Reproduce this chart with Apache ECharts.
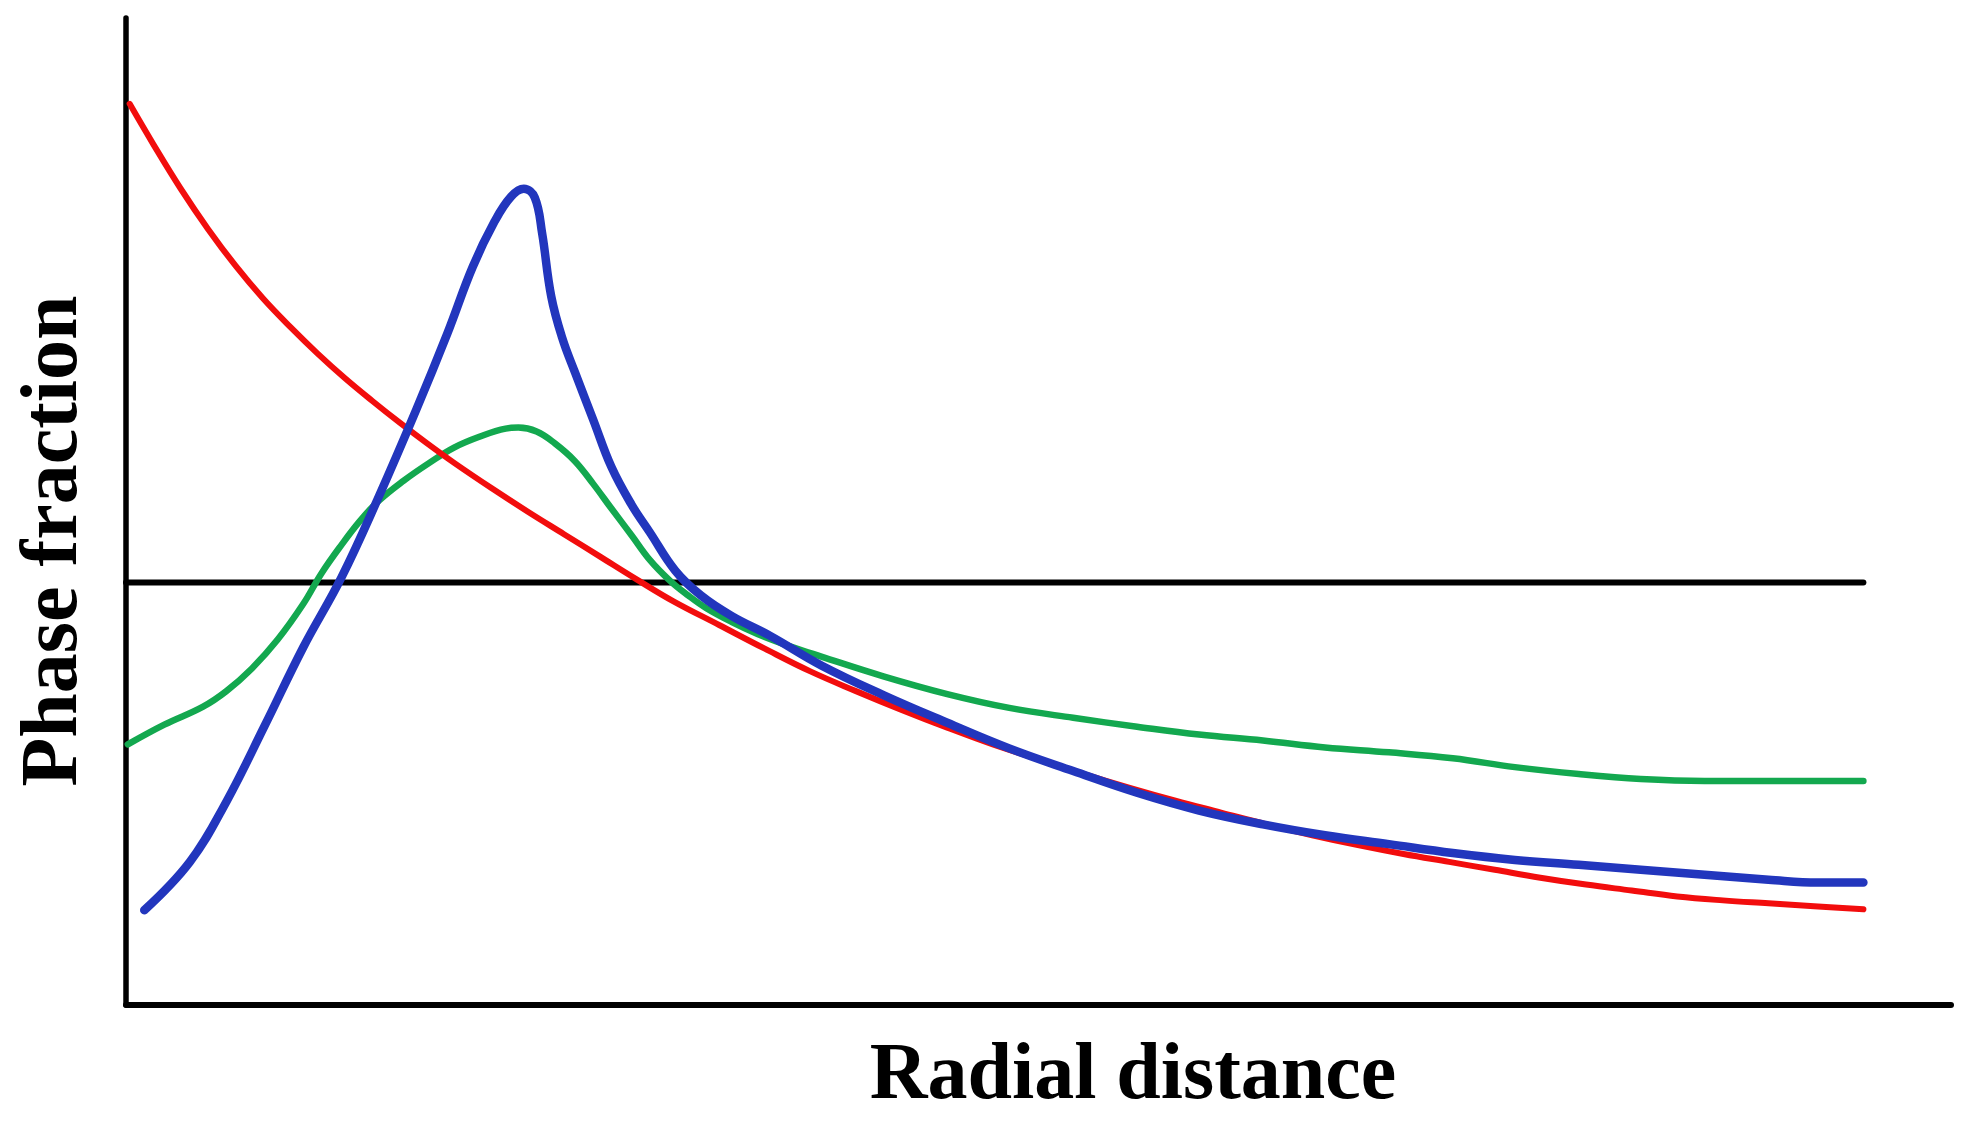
<!DOCTYPE html>
<html>
<head>
<meta charset="utf-8">
<script src="https://cdn.jsdelivr.net/npm/echarts@6/dist/echarts.min.js"></script>
<style>
html,body{margin:0;padding:0;background:#fff;}
#chart{width:1980px;height:1143px;}
</style>
</head>
<body>
<div id="chart"></div>
<script>
// Axis titles
const xTitle = 'Radial distance';
const yTitle = 'Phase fraction';

// Reference level (black horizontal line)
const refLine = [[0, 42.8], [95.2, 42.8]];

// Red curve: monotonically decreasing
const redSeries = [
  [0.2, 91.3], [1.5, 87.2], [3.0, 82.7], [4.5, 78.6], [6.0, 74.9], [7.5, 71.6],
  [9.0, 68.7], [10.5, 66.0], [12.0, 63.5], [13.5, 61.2], [15.0, 59.0], [16.5, 56.9],
  [18.0, 54.9], [20.0, 52.4], [22.0, 50.0], [24.0, 47.7], [26.0, 45.4], [28.0, 43.1],
  [30.0, 40.9], [32.5, 38.5], [35.0, 36.1], [37.5, 33.8], [40.0, 31.8], [42.5, 29.9],
  [45.0, 28.1], [47.5, 26.4], [50.0, 24.9], [52.5, 23.4], [55.0, 22.0], [57.5, 20.7],
  [60.0, 19.5], [62.5, 18.3], [65.0, 17.2], [67.5, 16.2], [70.0, 15.3], [72.5, 14.5],
  [75.0, 13.7], [77.5, 12.9], [80.0, 12.2], [82.5, 11.6], [85.0, 11.0], [87.5, 10.6],
  [90.0, 10.3], [92.5, 10.0], [95.2, 9.7]
];

// Blue curve: sharp peak
const blueSeries = [
  [1.0, 9.6], [3.5, 14.5], [5.5, 20.6], [7.6, 28.3], [9.7, 36.2], [11.8, 43.3],
  [13.8, 51.3], [15.9, 60.3], [17.6, 68.0], [19.0, 74.8], [20.2, 79.4], [21.1, 81.9],
  [21.8, 82.7], [22.4, 81.8], [22.8, 78.2], [23.3, 71.8], [23.9, 67.6], [24.6, 64.1],
  [25.6, 59.3], [26.6, 54.5], [27.7, 50.7], [28.7, 47.9], [30.1, 44.0], [31.5, 41.5],
  [33.2, 39.4], [35.3, 37.4], [38.1, 34.4], [41.5, 31.4], [45.0, 28.6], [48.4, 26.0],
  [51.9, 23.7], [55.4, 21.5], [58.8, 19.7], [62.3, 18.3], [65.7, 17.2], [69.2, 16.3],
  [72.7, 15.4], [76.1, 14.7], [79.6, 14.2], [83.0, 13.7], [86.5, 13.2], [90.0, 12.7],
  [92.7, 12.4], [95.2, 12.4]
];

// Green curve: broad peak
const greenSeries = [
  [0.1, 26.4], [2.1, 28.4], [4.2, 30.2], [5.5, 31.8], [6.9, 34.1], [8.3, 37.0],
  [9.7, 40.6], [10.7, 43.7], [11.8, 46.6], [12.8, 49.0], [13.8, 51.0], [15.2, 53.1],
  [16.6, 54.9], [18.0, 56.5], [19.4, 57.6], [20.8, 58.4], [21.5, 58.5], [22.5, 58.1],
  [23.5, 56.9], [24.6, 55.1], [25.6, 52.8], [26.6, 50.3], [27.7, 47.6], [28.7, 45.1],
  [29.8, 43.0], [30.8, 41.5], [31.8, 40.2], [33.2, 38.8], [34.6, 37.6], [36.3, 36.4],
  [38.1, 35.3], [41.5, 33.3], [45.0, 31.5], [48.4, 30.1], [51.9, 29.1], [55.4, 28.2],
  [58.8, 27.4], [62.3, 26.8], [65.7, 26.1], [69.2, 25.6], [72.7, 25.0], [76.1, 24.1],
  [79.6, 23.4], [83.0, 22.9], [86.5, 22.7], [90.0, 22.7], [95.2, 22.7]
];

const chart = echarts.init(document.getElementById('chart'), null, {renderer: 'canvas'});

function lineSeries(name, data, color, width, z, smooth) {
  return {
    name: name,
    type: 'line',
    data: data,
    showSymbol: false,
    symbol: 'none',
    smooth: smooth,
    z: z,
    silent: true,
    animation: false,
    lineStyle: {color: color, width: width, cap: 'round', join: 'round'}
  };
}

const titleFont = 'bold 80px "Liberation Serif", "Times New Roman", serif';

chart.setOption({
  backgroundColor: '#ffffff',
  animation: false,
  grid: {left: 126, right: 29, top: 18, bottom: 138, containLabel: false},
  xAxis: {
    type: 'value', min: 0, max: 100,
    axisLine: {show: true, lineStyle: {color: '#000', width: 6}},
    axisTick: {show: false}, axisLabel: {show: false}, splitLine: {show: false}
  },
  yAxis: {
    type: 'value', min: 0, max: 100,
    axisLine: {show: true, lineStyle: {color: '#000', width: 5.5}},
    axisTick: {show: false}, axisLabel: {show: false}, splitLine: {show: false}
  },
  series: [
    lineSeries('Reference', refLine, '#000000', 6, 2, false),
    lineSeries('Green', greenSeries, '#13a84f', 6.5, 3, 0.4),
    lineSeries('Red', redSeries, '#f20d0d', 6, 4, 0.4),
    lineSeries('Blue', blueSeries, '#2236bd', 8.5, 5, 0.4)
  ],
  graphic: [
    {
      type: 'text', x: 1133, y: 1077, silent: true,
      style: {text: xTitle, font: titleFont, fill: '#000',
        textAlign: 'center', textVerticalAlign: 'middle', align: 'center', verticalAlign: 'middle'}
    },
    {
      type: 'text', x: 55, y: 541, rotation: Math.PI / 2, silent: true,
      style: {text: yTitle, font: titleFont, fill: '#000',
        textAlign: 'center', textVerticalAlign: 'middle', align: 'center', verticalAlign: 'middle'}
    }
  ]
});
</script>
</body>
</html>
